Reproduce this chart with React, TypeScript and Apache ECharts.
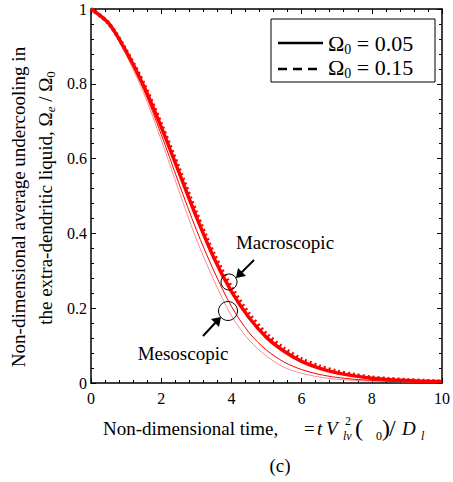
import React, { useEffect, useRef } from "react";
import * as echarts from "echarts";

const times = [0, 0.5, 1, 1.5, 2, 2.5, 3, 3.5, 4, 4.5, 5, 5.5, 6, 6.5, 7, 7.5, 8, 8.5, 9, 9.5, 10];
const macro005 = [1.0, 0.962, 0.887, 0.795, 0.685, 0.565, 0.445, 0.335, 0.245, 0.175, 0.122, 0.085, 0.058, 0.04, 0.027, 0.019, 0.013, 0.009, 0.007, 0.005, 0.004];
const macro015 = [1.0, 0.962, 0.889, 0.8, 0.692, 0.575, 0.455, 0.345, 0.256, 0.185, 0.131, 0.092, 0.064, 0.045, 0.031, 0.022, 0.015, 0.011, 0.008, 0.006, 0.004];
const meso005 = [1.0, 0.96, 0.882, 0.785, 0.665, 0.535, 0.41, 0.3, 0.205, 0.135, 0.088, 0.056, 0.036, 0.023, 0.015, 0.01, 0.007, 0.005, 0.003, 0.002, 0.001];
const meso015 = [1.0, 0.959, 0.877, 0.775, 0.65, 0.515, 0.385, 0.275, 0.18, 0.115, 0.072, 0.042, 0.026, 0.016, 0.01, 0.007, 0.005, 0.004, 0.003, 0.002, 0.001];
const xTicks = [0, 2, 4, 6, 8, 10];
const yTicks = [0, 0.2, 0.4, 0.6, 0.8, 1];

const FONT = "Times New Roman";

const pairs = (ys: number[]) => times.map((t, i) => [t, ys[i]]);

export default function App() {
  const ref = useRef<HTMLDivElement>(null);
  useEffect(() => {
    if (!ref.current) return;
    const chart = echarts.init(ref.current, null, { renderer: "svg" });
    const axisCommon = {
      type: "value" as const,
      axisLine: { show: true, onZero: false, lineStyle: { color: "#000", width: 1.5 } },
      axisTick: { show: true, inside: true, length: 5, lineStyle: { color: "#000", width: 1 } },
      minorTick: { show: true, splitNumber: 5, length: 3, lineStyle: { color: "#000", width: 1 } },
      splitLine: { show: false },
      minorSplitLine: { show: false },
    };
    const labelStyle = { color: "#000", fontFamily: FONT, fontSize: 16 };
    const txt = (x: number, y: number, text: string, extra: any = {}) => ({
      type: "text",
      x,
      y,
      style: { text, fontFamily: FONT, fontSize: 19, fill: "#000", verticalAlign: "middle", align: "left", ...extra },
    });
    const lineSeries = (name: string, ys: number[], lineStyle: any, z: number) => ({
      type: "line", name, data: pairs(ys), showSymbol: false, smooth: 0.3, lineStyle, z,
    });
    const legendRich = {
      a: { fontFamily: FONT, fontSize: 22, fill: "#000", lineHeight: 26, verticalAlign: "middle" },
      s: { fontFamily: FONT, fontSize: 14, fill: "#000", lineHeight: 26, verticalAlign: "bottom", padding: [10, 0, 0, 0] },
    };
    chart.setOption({
      animation: false,
      grid: { left: 91, top: 9, width: 355, height: 374, containLabel: false },
      xAxis: [
        {
          ...axisCommon,
          min: xTicks[0],
          max: xTicks[xTicks.length - 1],
          interval: 2,
          position: "bottom",
          axisLabel: { ...labelStyle, margin: 7 },
        },
        {
          ...axisCommon,
          min: xTicks[0],
          max: xTicks[xTicks.length - 1],
          interval: 2,
          position: "top",
          axisLabel: { show: false },
        },
      ],
      yAxis: [
        {
          ...axisCommon,
          min: yTicks[0],
          max: yTicks[yTicks.length - 1],
          interval: 0.2,
          position: "left",
          axisLabel: { ...labelStyle, margin: 4 },
        },
        {
          ...axisCommon,
          min: yTicks[0],
          max: yTicks[yTicks.length - 1],
          interval: 0.2,
          position: "right",
          axisLabel: { show: false },
        },
      ],
      series: [
        lineSeries("meso015", meso015, { color: "#ff8c8c", width: 1 }, 2),
        lineSeries("meso005", meso005, { color: "#f00000", width: 1 }, 3),
        lineSeries("macro005", macro005, { color: "#ff0000", width: 3.5 }, 4),
        lineSeries("macro015", macro015, { color: "#ff0000", width: 4, type: [2, 3] }, 5),
      ],
      graphic: [
        // legend box
        { type: "rect", shape: { x: 271, y: 19, width: 164, height: 63 }, style: { fill: "#fff", stroke: "#000", lineWidth: 1 }, z: 10 },
        { type: "line", shape: { x1: 278, y1: 43, x2: 323, y2: 43 }, style: { stroke: "#000", lineWidth: 2.5 }, z: 11 },
        { type: "line", shape: { x1: 278, y1: 69, x2: 323, y2: 69 }, style: { stroke: "#000", lineWidth: 2.5, lineDash: [9, 6] }, z: 11 },
        {
          type: "text", x: 328, y: 43, z: 11,
          style: { text: "{a|Ω}{s|0}{a| = 0.05}", fontFamily: FONT, verticalAlign: "middle", align: "left", rich: legendRich },
        },
        {
          type: "text", x: 328, y: 67, z: 11,
          style: { text: "{a|Ω}{s|0}{a| = 0.15}", fontFamily: FONT, verticalAlign: "middle", align: "left", rich: legendRich },
        },
        // annotations
        txt(285, 242, "Macroscopic", { align: "center" }),
        txt(183, 353, "Mesoscopic", { align: "center" }),
        { type: "circle", shape: { cx: 229, cy: 282, r: 8 }, style: { fill: "none", stroke: "#000", lineWidth: 1 }, z: 10 },
        { type: "circle", shape: { cx: 228, cy: 311, r: 9.5 }, style: { fill: "none", stroke: "#000", lineWidth: 1 }, z: 10 },
        { type: "line", shape: { x1: 254, y1: 260, x2: 240, y2: 274 }, style: { stroke: "#000", lineWidth: 2 }, z: 10 },
        { type: "polygon", shape: { points: [[236, 278], [238, 268], [246, 276]] }, style: { fill: "#000" }, z: 10 },
        { type: "line", shape: { x1: 203, y1: 336, x2: 217, y2: 321 }, style: { stroke: "#000", lineWidth: 2 }, z: 10 },
        { type: "polygon", shape: { points: [[221, 317], [211, 319], [219, 327]] }, style: { fill: "#000" }, z: 10 },
        // x-axis title
        txt(103, 428, "Non-dimensional time,"),
        txt(304, 428, "="),
        txt(317, 428, "t", { fontStyle: "italic" }),
        txt(326, 428, "V", { fontStyle: "italic" }),
        txt(345, 421, "2", { fontSize: 12 }),
        txt(343, 436, "lv", { fontSize: 12, fontStyle: "italic" }),
        txt(355, 428, "(", { fontSize: 24 }),
        txt(376, 436, "0", { fontSize: 12 }),
        txt(382, 428, ")", { fontSize: 24 }),
        txt(389, 428, "/", { fontSize: 24 }),
        txt(402, 428, "D", { fontStyle: "italic" }),
        txt(421, 436, "l", { fontSize: 12, fontStyle: "italic" }),
        txt(280, 465, "(c)", { align: "center" }),
        // y-axis title
        {
          type: "text", x: 18, y: 207, rotation: Math.PI / 2,
          style: { text: "Non-dimensional average undercooling in", fontFamily: FONT, fontSize: 19, fill: "#000", align: "center", verticalAlign: "middle" },
        },
        {
          type: "text", x: 45, y: 198, rotation: Math.PI / 2,
          style: {
            text: "{n|the extra-dendritic liquid, Ω}{e|e}{n| / Ω}{z|0}", fontFamily: FONT, align: "center", verticalAlign: "middle",
            rich: {
              n: { fontFamily: FONT, fontSize: 19, fill: "#000", lineHeight: 24, verticalAlign: "middle" },
              e: { fontFamily: FONT, fontSize: 13, fontStyle: "italic", fill: "#000", lineHeight: 24, verticalAlign: "bottom", padding: [9, 0, 0, 0] },
              z: { fontFamily: FONT, fontSize: 13, fill: "#000", lineHeight: 24, verticalAlign: "bottom", padding: [9, 0, 0, 0] },
            },
          },
        },
      ],
    });
    return () => chart.dispose();
  }, []);
  return <div ref={ref} style={{ position: "absolute", left: 0, top: 0, width: 453, height: 482, fontFamily: "Liberation Serif" }} />;
}
